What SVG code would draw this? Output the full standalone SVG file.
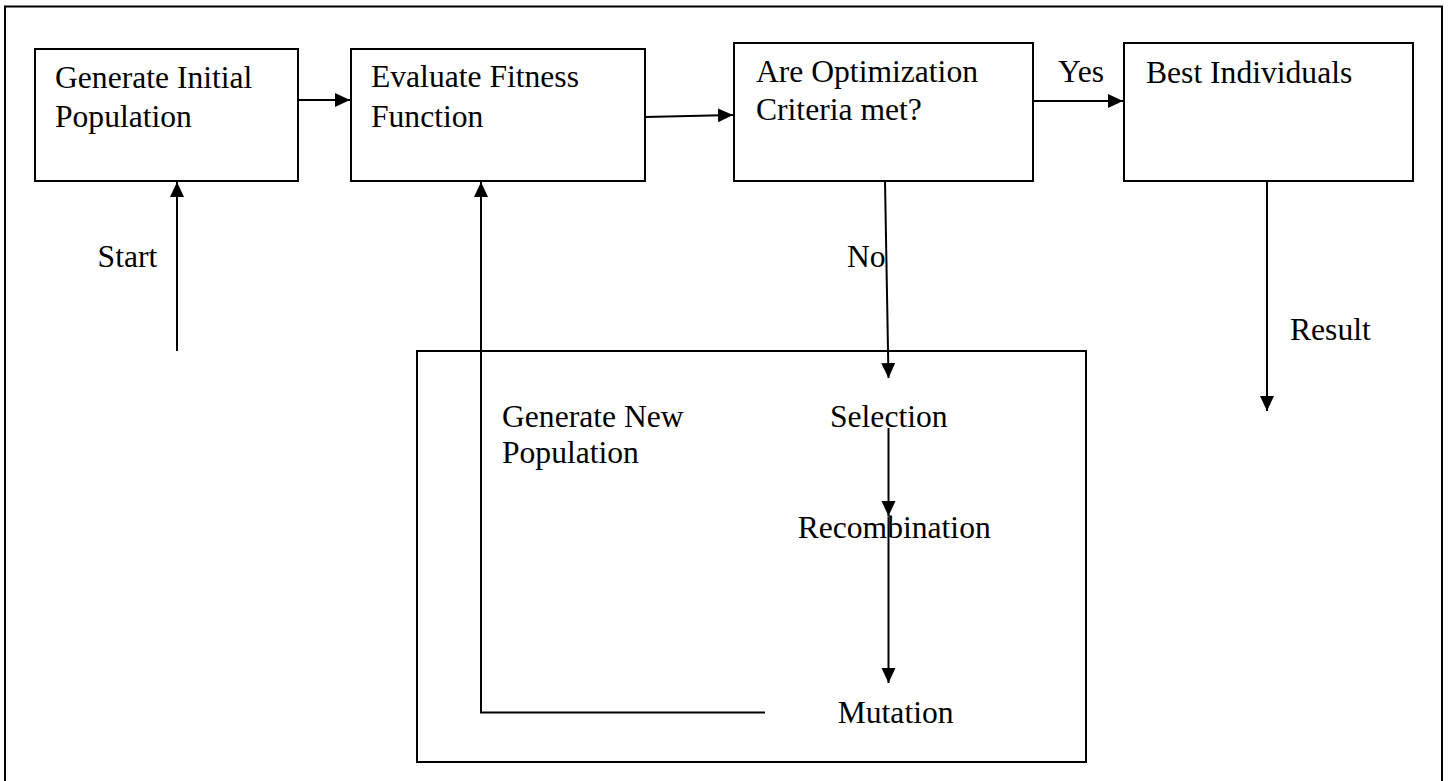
<svg xmlns="http://www.w3.org/2000/svg" width="1448" height="781" viewBox="0 0 1448 781">
<defs>
<style>
.box{fill:none;stroke:#000;stroke-width:2}
.ln{fill:none;stroke:#000;stroke-width:2}
.t{font-family:"Liberation Serif","Times New Roman",serif;font-size:31.6px;fill:#000}
</style>
<marker id="ah" markerUnits="userSpaceOnUse" markerWidth="16" markerHeight="15" refX="15" refY="7" orient="auto">
<path d="M0,0 L15,7 L0,14 z" fill="#000"/>
</marker>
</defs>
<rect width="1448" height="781" fill="#fff"/>
<path id="frame" class="box" d="M5,781 L5,6.5 L1442,6.5 L1442,781"/>
<g id="n-initial">
<rect class="box" x="35" y="49" width="263" height="132"/>
<text class="t" x="55" y="88">Generate Initial</text>
<text class="t" x="55" y="126.5">Population</text>
</g>
<g id="n-evaluate">
<rect class="box" x="351" y="49" width="294" height="132"/>
<text class="t" x="371" y="87">Evaluate Fitness</text>
<text class="t" x="371" y="126.5">Function</text>
</g>
<g id="n-criteria">
<rect class="box" x="734" y="43" width="299" height="138"/>
<text class="t" x="756" y="82">Are Optimization</text>
<text class="t" x="756" y="119.5">Criteria met?</text>
</g>
<g id="n-best">
<rect class="box" x="1124" y="43" width="289" height="138"/>
<text class="t" x="1146" y="83">Best Individuals</text>
</g>
<g id="n-newpop">
<rect class="box" x="417" y="351" width="669" height="411"/>
<text class="t" x="502" y="426.7">Generate New</text>
<text class="t" x="502" y="463.3">Population</text>
</g>
<g id="n-selection"><text class="t" x="830" y="427">Selection</text></g>
<g id="n-recombination"><text class="t" x="797.7" y="537.5">Recombination</text></g>
<g id="n-mutation"><text class="t" x="837.7" y="722.7">Mutation</text></g>
<g id="connectors">
<path class="ln" d="M177,351 L177,182" marker-end="url(#ah)"/>
<path class="ln" d="M298,100 L350,100" marker-end="url(#ah)"/>
<path class="ln" d="M645,117 L733,115" marker-end="url(#ah)"/>
<path class="ln" d="M1033,101 L1123,101" marker-end="url(#ah)"/>
<path class="ln" d="M885,181 L888.5,378" marker-end="url(#ah)"/>
<path class="ln" d="M888.5,428 L888.5,516" marker-end="url(#ah)"/>
<path class="ln" d="M888.5,517 L888.5,683" marker-end="url(#ah)"/>
<path class="ln" d="M1267,181 L1267,411" marker-end="url(#ah)"/>
<path class="ln" d="M765,712.5 L481,712.5 L481,182" marker-end="url(#ah)"/>
<text class="t" x="97.6" y="266.7">Start</text>
<text class="t" x="1058" y="82">Yes</text>
<text class="t" x="847" y="267">No</text>
<text class="t" x="1290" y="340">Result</text>
</g>
</svg>
